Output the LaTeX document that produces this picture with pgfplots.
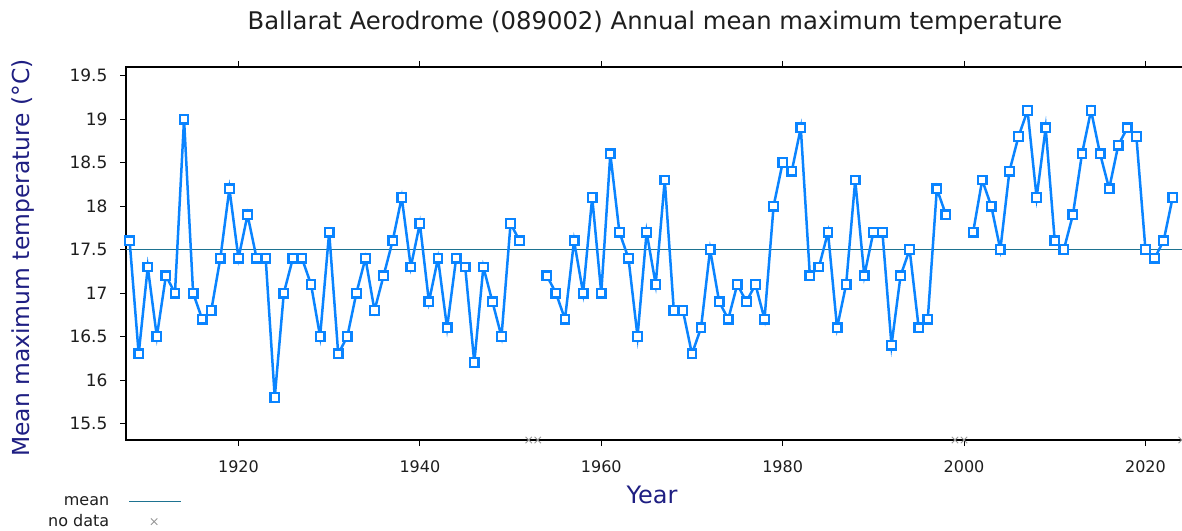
\documentclass[border=0pt]{standalone}
\usepackage{fontspec}
\setmainfont{DejaVu Sans}
\usepackage{pgfplots}
\pgfplotsset{compat=1.18}
\definecolor{series}{RGB}{10,132,255}
\definecolor{meanc}{RGB}{30,115,145}
\definecolor{navy}{RGB}{30,30,130}
\definecolor{txt}{RGB}{30,30,30}
\definecolor{nodata}{RGB}{150,150,150}
\pgfplotsset{
  meanlegend/.style={legend image code/.code={\draw[##1] (0pt,0pt) -- (52pt,0pt);}},
  nodatalegend/.style={legend image code/.code={\path (0pt,0pt) (52pt,0pt); \draw[##1] plot coordinates {(25pt,0pt)};}},
}
\begin{document}
\begin{tikzpicture}[x=1pt,y=1pt]
\useasboundingbox (-126,-90) rectangle (1056,440);
\begin{axis}[
  at={(0pt,0pt)}, anchor=south west,
  scale only axis, width=1058pt, height=373pt,
  xmin=1907.6, xmax=2024.25, ymin=15.31, ymax=19.6,
  xtick={1920,1940,...,2020},
  ytick={15.5,16,16.5,17,17.5,18,18.5,19,19.5},
  ytick pos=left, xtick pos=both,
  xticklabel pos=bottom,
  tick align=outside, major tick length=6pt,
  tick style={black, line width=1pt},
  axis line style={black, line width=1.2pt},
  /pgf/number format/assume math mode=true,
  x tick label style={/pgf/number format/1000 sep={}, font=\fontsize{16}{18}\selectfont, text=txt, yshift=-11pt},
  y tick label style={/pgf/number format/fixed, font=\fontsize{17}{19}\selectfont, text=txt, xshift=-9pt},
  unbounded coords=jump,
  clip=false,
  legend plot pos=right,
  legend cell align=right,
  legend style={draw=none, fill=none, at={(axis description cs:0.053,-0.145)}, anchor=north east,
    font=\fontsize{16}{19}\selectfont, text=txt, row sep=4pt, column sep=17pt, inner sep=0pt},
]
\addplot[meanc, line width=1.6pt, meanlegend]
  coordinates {(1907.6,17.5) (2024.25,17.5)};
\addlegendentry{mean}
\addplot[only marks, mark=x, nodata, mark size=4.5pt, line width=0.9pt, nodatalegend]
  coordinates {(1952,15.31) (1953,15.31) (1999,15.31) (2000,15.31) (2024,15.31)};
\addlegendentry{no data}
\addplot[series, line width=2.5pt, mark=square*, mark size=4.3pt,
  mark options={fill=white, draw=series, line width=2.3pt}, forget plot]
coordinates {
(1908,17.6) (1909,16.3) (1910,17.3) (1911,16.5) (1912,17.2) (1913,17.0) (1914,19.0)
(1915,17.0) (1916,16.7) (1917,16.8) (1918,17.4) (1919,18.2) (1920,17.4) (1921,17.9)
(1922,17.4) (1923,17.4) (1924,15.8) (1925,17.0) (1926,17.4) (1927,17.4) (1928,17.1)
(1929,16.5) (1930,17.7) (1931,16.3) (1932,16.5) (1933,17.0) (1934,17.4) (1935,16.8)
(1936,17.2) (1937,17.6) (1938,18.1) (1939,17.3) (1940,17.8) (1941,16.9) (1942,17.4)
(1943,16.6) (1944,17.4) (1945,17.3) (1946,16.2) (1947,17.3) (1948,16.9) (1949,16.5)
(1950,17.8) (1951,17.6) (1952,nan) (1953,nan)
(1954,17.2) (1955,17.0) (1956,16.7) (1957,17.6) (1958,17.0) (1959,18.1) (1960,17.0)
(1961,18.6) (1962,17.7) (1963,17.4) (1964,16.5) (1965,17.7) (1966,17.1) (1967,18.3)
(1968,16.8) (1969,16.8) (1970,16.3) (1971,16.6) (1972,17.5) (1973,16.9) (1974,16.7)
(1975,17.1) (1976,16.9) (1977,17.1) (1978,16.7) (1979,18.0) (1980,18.5) (1981,18.4)
(1982,18.9) (1983,17.2) (1984,17.3) (1985,17.7) (1986,16.6) (1987,17.1) (1988,18.3)
(1989,17.2) (1990,17.7) (1991,17.7) (1992,16.4) (1993,17.2) (1994,17.5) (1995,16.6)
(1996,16.7) (1997,18.2) (1998,17.9) (1999,nan) (2000,nan)
(2001,17.7) (2002,18.3) (2003,18.0) (2004,17.5) (2005,18.4) (2006,18.8) (2007,19.1)
(2008,18.1) (2009,18.9) (2010,17.6) (2011,17.5) (2012,17.9) (2013,18.6) (2014,19.1)
(2015,18.6) (2016,18.2) (2017,18.7) (2018,18.9) (2019,18.8) (2020,17.5) (2021,17.4)
(2022,17.6) (2023,18.1)
};
\end{axis}
\node[text=txt, font=\fontsize{24.3}{27}\selectfont] at (529,417) {Ballarat Aerodrome (089002) Annual mean maximum temperature};
\node[text=navy, font=\fontsize{23.4}{26}\selectfont, rotate=90] at (-103,182) {Mean maximum temperature (°C)};
\node[text=navy, font=\fontsize{24}{27}\selectfont] at (526,-55) {Year};
\end{tikzpicture}
\end{document}
